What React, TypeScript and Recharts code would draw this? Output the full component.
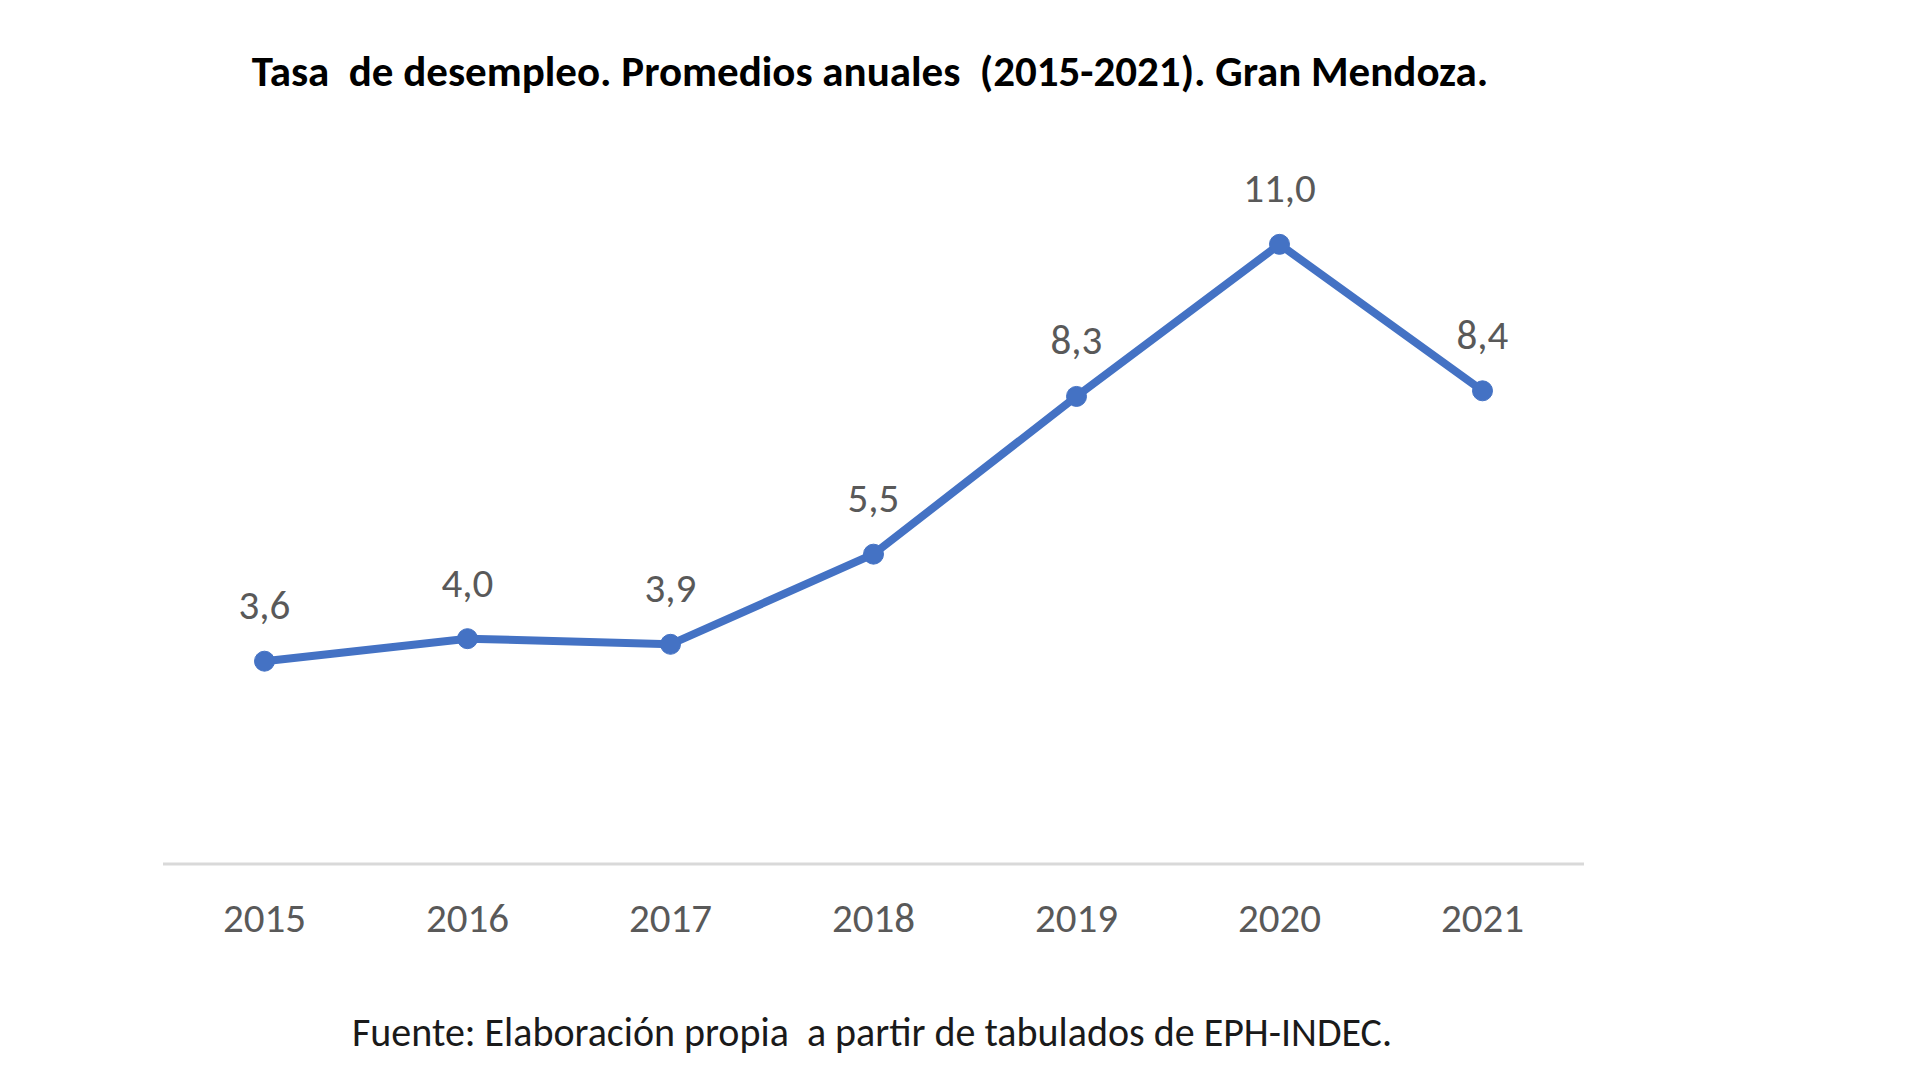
import { LineChart, Line, XAxis, YAxis, LabelList } from "recharts";

// ============================================
// Data
// ============================================

const YEARS = ["2015", "2016", "2017", "2018", "2019", "2020", "2021"];
const RATES = [3.6, 4.0, 3.9, 5.5, 8.3, 11.0, 8.4];

const TITLE = "Tasa  de desempleo. Promedios anuales  (2015-2021). Gran Mendoza.";
const SOURCE = "Fuente: Elaboración propia  a partir de tabulados de EPH-INDEC.";

const data = YEARS.map((year, i) => ({ year, rate: RATES[i] }));

const LINE_COLOR = "#4472C4";
const FONT = "Carlito, Calibri, 'Liberation Sans Narrow', Lato, 'Open Sans', sans-serif";

const formatRate = (v: number) => v.toFixed(1).replace(".", ",");

export default function App() {
  return (
    <div
      style={{
        position: "absolute",
        left: 0,
        top: 0,
        width: 1920,
        height: 1080,
        background: "#fff",
        fontFamily: FONT,
      }}
    >
      <div
        style={{
          position: "absolute",
          left: 0,
          width: 1740,
          top: 45,
          textAlign: "center",
          fontWeight: 700,
          fontSize: 43,
          color: "#000",
          whiteSpace: "pre",
        }}
      >
        {TITLE}
      </div>

      <div style={{ position: "absolute", left: 0, top: 0 }}>
        <LineChart
          width={1920}
          height={1080}
          data={data}
          margin={{ top: 188, right: 336, left: 163, bottom: 156 }}
        >
          <XAxis
            dataKey="year"
            padding={{ left: 101.5, right: 101.5 }}
            axisLine={{ stroke: "#d9d9d9", strokeWidth: 3 }}
            tickLine={false}
            tick={{ fill: "#595959", fontSize: 41, fontFamily: FONT }}
            tickMargin={33}
            height={60}
          />
          <YAxis hide domain={[0, 12]} />
          <Line
            type="linear"
            dataKey="rate"
            stroke={LINE_COLOR}
            strokeWidth={8}
            dot={{ r: 10, fill: LINE_COLOR, stroke: LINE_COLOR, strokeWidth: 1 }}
            isAnimationActive={false}
          >
            <LabelList
              dataKey="rate"
              position="top"
              offset={42}
              formatter={(v: number) => formatRate(v)}
              style={{ fill: "#595959", fontSize: 41, fontFamily: FONT }}
            />
          </Line>
        </LineChart>
      </div>

      <div
        style={{
          position: "absolute",
          left: 0,
          width: 1744,
          top: 1008,
          textAlign: "center",
          fontSize: 40,
          color: "#1a1a1a",
          whiteSpace: "pre",
        }}
      >
        {SOURCE}
      </div>
    </div>
  );
}
